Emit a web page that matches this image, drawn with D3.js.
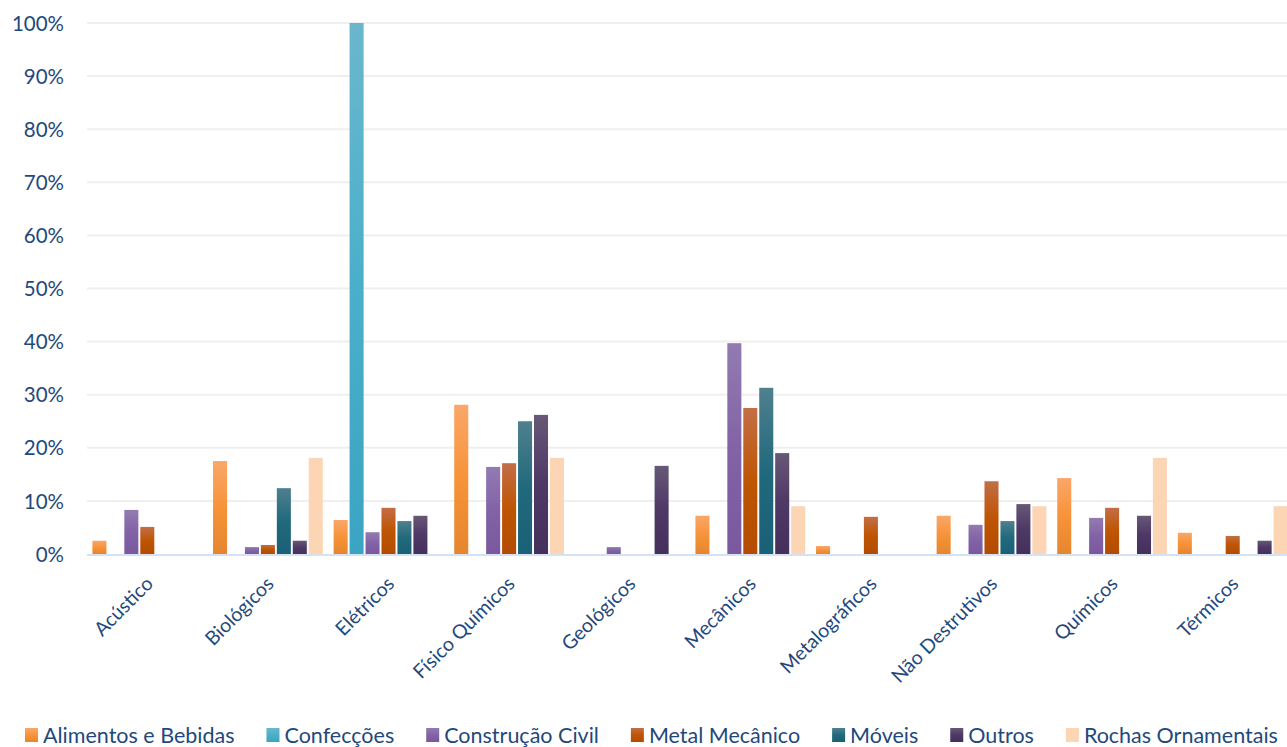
<!DOCTYPE html>
<html><head><meta charset="utf-8">
<script src="https://cdn.jsdelivr.net/npm/d3@7"></script>
<style>
html,body{margin:0;padding:0;background:#fff;overflow:hidden;}
svg{display:block;}
text{font-family:Lato,"Open Sans",sans-serif;fill:#1F497D;}
</style></head>
<body>
<svg id="c" width="1287" height="747"></svg>
<script>
const categories = ["Acústico","Biológicos","Elétricos","Físico Químicos","Geológicos","Mecânicos","Metalográficos","Não Destrutivos","Químicos","Térmicos"];
const seriesNames = ["Alimentos e Bebidas","Confecções","Construção Civil","Metal Mecânico","Móveis","Outros","Rochas Ornamentais"];
const alimentos   = [2.5, 17.5, 6.4, 28.1, 0,   7.2, 1.5, 7.2, 14.3, 4.0];
const confeccoes  = [0,   0,   100, 0,    0,   0,   0,   0,   0,    0];
const construcao  = [8.3, 1.3, 4.1, 16.4, 1.3, 39.7,0,   5.5, 6.8,  0];
const metal       = [5.1, 1.7, 8.7, 17.1, 0,   27.5,7.0, 13.7,8.7,  3.4];
const moveis      = [0,   12.4,6.2, 25.0, 0,   31.3,0,   6.2, 0,    0];
const outros      = [0,   2.5, 7.2, 26.2, 16.6,19.0,0,   9.4, 7.2,  2.5];
const rochas      = [0,   18.1,0,   18.1, 0,   9.0, 0,   9.0, 18.1, 9.0];
const yTicks = [0,10,20,30,40,50,60,70,80,90,100];
const seriesValues = [alimentos, confeccoes, construcao, metal, moveis, outros, rochas];
const colors = [
  ["#FAA769","#F79339","#E5862E"],
  ["#6AB7CD","#4AAFCA","#3AA4C2"],
  ["#927BB1","#8263A6","#7A589E"],
  ["#C36E48","#BE5502","#B34C00"],
  ["#4F808E","#21697D","#1A6076"],
  ["#675876","#4E3866","#45305C"],
  ["#FCD5B5","#FCD5B5","#FCD5B5"]
];

const svg = d3.select("#c");
const pLeft = 87, pRight = 1293, pTop = 23, pBottom = 554;
const y = d3.scaleLinear().domain([0,100]).range([pBottom, pTop]);
const x0 = d3.scaleBand().domain(categories).range([pLeft, pRight]).paddingInner(0.09).paddingOuter(0.045);
const x1 = d3.scaleBand().domain(seriesNames).range([0, x0.bandwidth()]).paddingInner(0.12);

const defs = svg.append("defs");
colors.forEach((c,i)=>{
  const g = defs.append("linearGradient").attr("id","g"+i).attr("x1",0).attr("y1",0).attr("x2",0).attr("y2",1);
  g.append("stop").attr("offset","0%").attr("stop-color",c[0]);
  g.append("stop").attr("offset","50%").attr("stop-color",c[1]);
  g.append("stop").attr("offset","100%").attr("stop-color",c[2]);
});

// gridlines
svg.append("g").selectAll("line").data(yTicks.filter(d=>d>0)).join("line")
  .attr("x1",pLeft).attr("x2",1287).attr("y1",d=>y(d)).attr("y2",d=>y(d))
  .attr("stroke","#EFEFEF").attr("stroke-width",2);

// y axis
const yAxis = d3.axisLeft(y).tickValues(yTicks).tickFormat(d=>d+"%").tickSize(0).tickPadding(0);
const ya = svg.append("g").attr("transform","translate(64,0)").call(yAxis);
ya.select(".domain").remove();
ya.selectAll("text").attr("font-size",20.5).attr("fill","#1F497D").attr("font-family","Lato,'Open Sans',sans-serif").attr("dy","0.35em");

// bars
const groups = svg.append("g").selectAll("g").data(categories).join("g")
  .attr("transform",d=>`translate(${x0(d)},0)`);
groups.selectAll("rect").data((d,ci)=>seriesNames.map((s,si)=>({s,si,v:seriesValues[si][ci]})).filter(o=>o.v>0)).join("rect")
  .attr("x",o=>x1(o.s)).attr("width",x1.bandwidth())
  .attr("y",o=>y(o.v)).attr("height",o=>pBottom-y(o.v))
  .attr("fill",o=>`url(#g${o.si})`);

// x axis line
svg.append("line").attr("x1",pLeft).attr("x2",1287).attr("y1",pBottom+1).attr("y2",pBottom+1)
  .attr("stroke","#D6E2F4").attr("stroke-width",2);

// x labels
const xAxis = d3.axisBottom(x0).tickSize(0).tickPadding(0);
const xa = svg.append("g").attr("transform",`translate(0,${pBottom})`).call(xAxis);
xa.select(".domain").remove();
xa.selectAll(".tick text")
  .attr("font-size",19.5).attr("fill","#1F497D").attr("font-family","Lato,'Open Sans',sans-serif")
  .attr("text-anchor","end").attr("dy",0).attr("y",0)
  .attr("transform","translate(7,31) rotate(-45)");

// legend
const leg = svg.append("g").attr("transform","translate(0,735)");
let lx = 25;
seriesNames.forEach((s,i)=>{
  leg.append("rect").attr("x",lx).attr("y",-7).attr("width",13).attr("height",14).attr("fill",`url(#g${i})`);
  const t = leg.append("text").attr("x",lx+18).attr("y",0).attr("dy","0.35em").attr("font-size",21.5).text(s);
  lx += 18 + t.node().getComputedTextLength() + 32;
});
</script>
</body></html>
